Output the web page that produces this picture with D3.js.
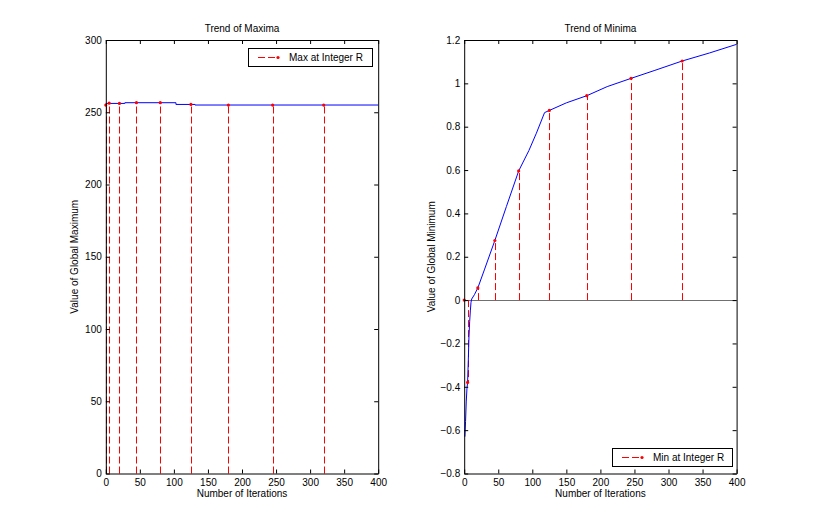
<!DOCTYPE html>
<html>
<head>
<meta charset="utf-8">
<script src="https://cdn.jsdelivr.net/npm/d3@7"></script>
<style>
  body { margin: 0; background: #fff; }
  svg { display: block; }
  text { font-family: "Liberation Sans", Arial, Helvetica, sans-serif; font-size: 10px; fill: #000; }
</style>
</head>
<body>
<svg id="chart" width="814" height="532"></svg>
<script>
// ---------- DATA ----------
// Stem positions (iterations at integer R, 5*R^2)
const stemIterations = [0, 5, 20, 45, 80, 125, 180, 245, 320];
// Left: global maximum at integer R
const maxAtR = [255.0, 256.3, 256.1, 256.6, 256.6, 255.4, 255.0, 255.0, 255.0];
// Left: trend of maxima (iteration, value)
const maxIter  = [0, 28, 28, 103, 103, 131, 131, 400];
const maxTrend = [256.1, 256.1, 256.6, 256.6, 255.4, 255.4, 255.0, 255.0];
// Right: global minimum at integer R
const minAtR = [0.0, -0.38, 0.056, 0.275, 0.596, 0.875, 0.943, 1.023, 1.103];
// Right: trend of minima (iteration, value)
const minIter  = [1, 2, 3, 4, 5, 6, 7, 8, 9, 10, 11, 15, 20, 30, 45, 62, 80, 95, 106, 118, 125, 150, 180, 210, 245, 280, 320, 360, 400];
const minTrend = [-0.63, -0.56, -0.47, -0.41, -0.38, -0.28, -0.17, -0.10, -0.05, -0.01, 0.005, 0.025, 0.056, 0.143, 0.275, 0.432, 0.596, 0.69, 0.77, 0.865, 0.875, 0.91, 0.943, 0.985, 1.023, 1.06, 1.103, 1.14, 1.18];
// Ticks
const xTicks = [0, 50, 100, 150, 200, 250, 300, 350, 400];
const yTicksMax = [0, 50, 100, 150, 200, 250, 300];
const yTicksMin = [-0.8, -0.6, -0.4, -0.2, 0, 0.2, 0.4, 0.6, 0.8, 1, 1.2];

// ---------- LAYOUT ----------
const svg = d3.select("#chart");
const plotTop = 40, plotBottom = 473.5;

function panel(opts) {
  const x = d3.scaleLinear().domain([0, 400]).range([opts.left, opts.right]);
  const y = d3.scaleLinear().domain(opts.yDomain).range([plotBottom, plotTop]);
  const g = svg.append("g");

  // Stem baseline (at 0)
  if (opts.baseline) {
    g.append("line")
      .attr("x1", x(0)).attr("x2", x(400))
      .attr("y1", Math.round(y(0)) + 0.5).attr("y2", Math.round(y(0)) + 0.5)
      .attr("stroke", "#707070").attr("stroke-width", 1);
  }

  // Stems
  g.selectAll(".stem").data(stemIterations.map((d, i) => [d, opts.stems[i]]))
    .enter().append("line")
    .attr("x1", d => Math.round(x(d[0])) + 0.5).attr("x2", d => Math.round(x(d[0])) + 0.5)
    .attr("y1", y(0)).attr("y2", d => y(d[1]))
    .attr("stroke", "#ff0000").attr("stroke-width", 1)
    .attr("stroke-dasharray", "7,3");

  // Trend line
  const line = d3.line().x(d => x(d[0])).y(d => y(d[1]));
  g.append("path")
    .datum(opts.trendX.map((d, i) => [d, opts.trendY[i]]))
    .attr("d", line)
    .attr("fill", "none").attr("stroke", "#0000ff").attr("stroke-width", 1);

  // Stem markers
  g.selectAll(".mk").data(stemIterations.map((d, i) => [d, opts.stems[i]]))
    .enter().append("circle")
    .attr("cx", d => x(d[0])).attr("cy", d => y(d[1])).attr("r", 1.6)
    .attr("fill", "#ff0000");

  // Axes (box with inward ticks)
  const ax = svg.append("g");
  ax.append("g").attr("transform", `translate(0,${plotBottom})`)
    .call(d3.axisBottom(x).tickValues(xTicks).tickFormat(d3.format("d")).tickSizeInner(-4).tickSizeOuter(0).tickPadding(5));
  ax.append("g").attr("transform", `translate(0,${plotTop})`)
    .call(d3.axisTop(x).tickValues(xTicks).tickFormat("").tickSizeInner(-4).tickSizeOuter(0));
  ax.append("g").attr("transform", `translate(${opts.left},0)`)
    .call(d3.axisLeft(y).tickValues(opts.yTicks).tickFormat(opts.yFormat).tickSizeInner(-4).tickSizeOuter(0).tickPadding(4));
  ax.append("g").attr("transform", `translate(${opts.right},0)`)
    .call(d3.axisRight(y).tickValues(opts.yTicks).tickFormat("").tickSizeInner(-4).tickSizeOuter(0));
  ax.selectAll("text").attr("font-size", 10).attr("font-family", "Liberation Sans, Arial, sans-serif").attr("fill", "#000");
  ax.selectAll("path.domain, line").attr("stroke", "#000");

  // Title, axis labels
  const cx = (opts.left + opts.right) / 2;
  svg.append("text").attr("x", cx).attr("y", 32).attr("text-anchor", "middle").text(opts.title);
  svg.append("text").attr("x", cx).attr("y", 497).attr("text-anchor", "middle").text("Number of Iterations");
  svg.append("text")
    .attr("transform", `translate(${opts.ylabelX},${(plotTop + plotBottom) / 2}) rotate(-90)`)
    .attr("text-anchor", "middle").text(opts.ylabel);

  // Legend
  const L = opts.legend;
  const lg = svg.append("g");
  lg.append("rect").attr("x", L.x + 0.5).attr("y", L.y + 0.5).attr("width", L.w).attr("height", L.h)
    .attr("fill", "#fff").attr("stroke", "#000").attr("stroke-width", 1);
  const ly0 = L.y + L.h / 2 + 0.5;
  lg.append("line").attr("x1", L.x + 10).attr("x2", L.x + 30).attr("y1", ly0).attr("y2", ly0)
    .attr("stroke", "#ff0000").attr("stroke-dasharray", "7,3");
  lg.append("circle").attr("cx", L.x + 30).attr("cy", ly0).attr("r", 1.6).attr("fill", "#ff0000");
  lg.append("text").attr("x", L.x + 41).attr("y", ly0 + 3.5).text(opts.legendText);
}

panel({
  left: 105.8, right: 378.2, yDomain: [0, 300],
  stems: maxAtR, trendX: maxIter, trendY: maxTrend,
  yTicks: yTicksMax, yFormat: d3.format("d"),
  title: "Trend of Maxima", ylabel: "Value of Global Maximum", ylabelX: 78,
  baseline: false,
  legend: { x: 248, y: 48, w: 124, h: 18 }, legendText: "Max at Integer R"
});

panel({
  left: 464.2, right: 736.6, yDomain: [-0.8, 1.2],
  stems: minAtR, trendX: minIter, trendY: minTrend,
  yTicks: yTicksMin, yFormat: d => d3.format("")(+d.toFixed(1)),
  title: "Trend of Minima", ylabel: "Value of Global Minimum", ylabelX: 435,
  baseline: true,
  legend: { x: 612, y: 448, w: 120, h: 18 }, legendText: "Min at Integer R"
});
</script>
</body>
</html>
